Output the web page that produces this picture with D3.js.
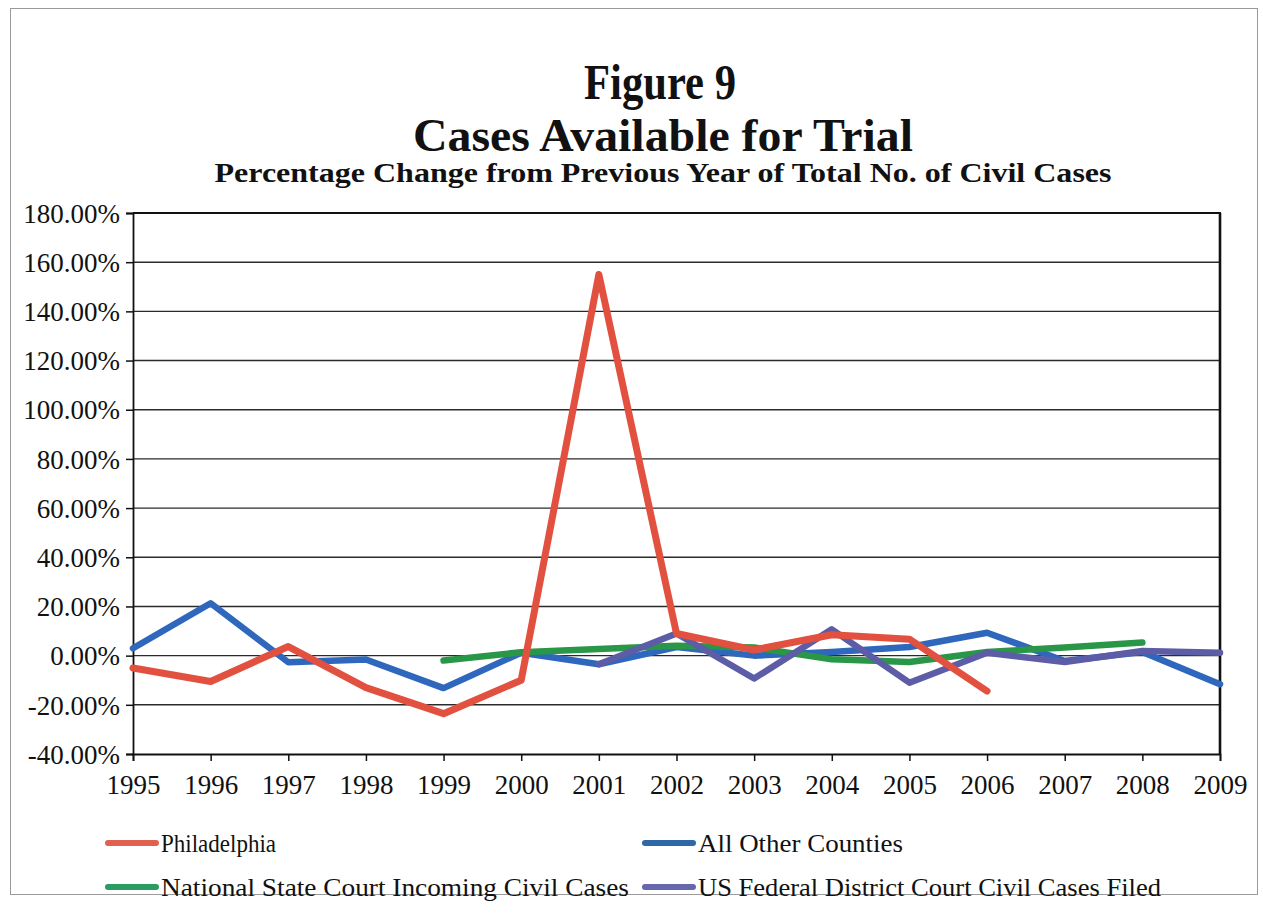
<!DOCTYPE html>
<html>
<head>
<meta charset="utf-8">
<script src="https://cdn.jsdelivr.net/npm/d3@7"></script>
<style>
  html, body { margin: 0; padding: 0; background: #fff; }
  svg { display: block; }
  text { font-family: "Liberation Serif", "Times New Roman", serif; fill: #111; }
</style>
</head>
<body>
<svg id="chart" width="1263" height="917"></svg>
<script>
// Categories (years) and series values, percentage change from previous year
const years = [1995, 1996, 1997, 1998, 1999, 2000, 2001, 2002, 2003, 2004, 2005, 2006, 2007, 2008, 2009];
const philadelphia = [-5, -10.5, 3.7, -13, -23.6, -10, 155, 9, 2.3, 8.5, 6.7, -14.4, null, null, null];
const allOtherCounties = [3, 21.3, -2.7, -1.6, -13.2, 1.2, -3.5, 3.5, 0, 1.5, 3.5, 9.3, -2.2, 1.5, -11.6];
const nationalStateCourt = [null, null, null, null, -2, 1.4, 2.7, 4, 3.3, -1.5, -2.6, 1.5, 3.3, 5.3, null];
const usFederalDistrict = [null, null, null, null, null, null, -3.5, 9, -9.3, 10.7, -11, 1.2, -2.6, 1.9, 1.2];
const yTicks = [-40, -20, 0, 20, 40, 60, 80, 100, 120, 140, 160, 180];

const seriesNames = ["Philadelphia", "All Other Counties", "National State Court Incoming Civil Cases", "US Federal District Court Civil Cases Filed"];
const seriesValues = [philadelphia, allOtherCounties, nationalStateCourt, usFederalDistrict];
const seriesColors = ["#e2513f", "#2f67bd", "#2a9647", "#5d5ca6"];
const legendColors = ["#e0614f", "#2e68a6", "#2a9b62", "#6767ad"];

const svg = d3.select("#chart");

// Outer frame
svg.append("rect")
  .attr("x", 10.5).attr("y", 8.5)
  .attr("width", 1247).attr("height", 886)
  .attr("fill", "none").attr("stroke", "#9a9a9a").attr("stroke-width", 1);

// Titles
svg.append("text").attr("x", 660).attr("y", 99)
  .attr("text-anchor", "middle").attr("font-weight", "bold").attr("font-size", 50)
  .attr("textLength", 152).attr("lengthAdjust", "spacingAndGlyphs")
  .text("Figure 9");
svg.append("text").attr("x", 663).attr("y", 151)
  .attr("text-anchor", "middle").attr("font-weight", "bold").attr("font-size", 47)
  .attr("textLength", 500).attr("lengthAdjust", "spacingAndGlyphs")
  .text("Cases Available for Trial");
svg.append("text").attr("x", 663).attr("y", 182)
  .attr("text-anchor", "middle").attr("font-weight", "bold").attr("font-size", 28)
  .attr("textLength", 897).attr("lengthAdjust", "spacingAndGlyphs")
  .text("Percentage Change from Previous Year of Total No. of Civil Cases");

// Scales
const x = d3.scalePoint().domain(years).range([133, 1220]);
const y = d3.scaleLinear().domain([-40, 180]).range([754, 213]);

// Horizontal gridlines
svg.append("g")
  .selectAll("line")
  .data(yTicks.filter(t => t !== -40 && t !== 180))
  .join("line")
  .attr("x1", x.range()[0]).attr("x2", x.range()[1])
  .attr("y1", d => y(d)).attr("y2", d => y(d))
  .attr("stroke", "#2b2b2b").attr("stroke-width", 1.4);

// Plot frame: top and right edges
svg.append("line").attr("x1", 133).attr("x2", 1221).attr("y1", y(180)).attr("y2", y(180))
  .attr("stroke", "#111").attr("stroke-width", 2.2);
svg.append("line").attr("x1", 1220).attr("x2", 1220).attr("y1", y(180)).attr("y2", y(-40))
  .attr("stroke", "#111").attr("stroke-width", 2.6);

// Y axis
const pct = d => (d3.format(".2f")(d) + "%").replace("\u2212", "-");
const yAxis = svg.append("g")
  .attr("transform", `translate(${x.range()[0]},0)`)
  .call(d3.axisLeft(y).tickValues(yTicks).tickSize(7).tickPadding(6).tickFormat(pct));
yAxis.select(".domain").attr("stroke", "#111").attr("stroke-width", 1.8);
yAxis.selectAll(".tick line").attr("stroke", "#111").attr("stroke-width", 1.5);
yAxis.selectAll(".tick text")
  .attr("font-family", "Liberation Serif, Times New Roman, serif")
  .attr("font-size", 27).attr("fill", "#111").attr("dy", "0.34em");

// X axis
const xAxis = svg.append("g")
  .attr("transform", `translate(0,${y(-40)})`)
  .call(d3.axisBottom(x).tickSize(7).tickPadding(14));
xAxis.select(".domain").attr("stroke", "#111").attr("stroke-width", 1.8);
xAxis.selectAll(".tick line").attr("stroke", "#111").attr("stroke-width", 1.5);
xAxis.selectAll(".tick text")
  .attr("font-family", "Liberation Serif, Times New Roman, serif")
  .attr("font-size", 27).attr("fill", "#111");

// Series lines
const line = d3.line()
  .defined(d => d.v !== null)
  .x(d => x(d.year))
  .y(d => y(d.v));

const drawOrder = [1, 2, 3, 0];
drawOrder.forEach(i => {
  const pts = years.map((yr, k) => ({ year: yr, v: seriesValues[i][k] }));
  svg.append("path")
    .datum(pts)
    .attr("d", line)
    .attr("fill", "none")
    .attr("stroke", seriesColors[i])
    .attr("stroke-width", i === 0 ? 7 : 6.5)
    .attr("stroke-linejoin", "round")
    .attr("stroke-linecap", "round");
});

// Legend
const legendItems = [
  { i: 0, sx: 108, row: 0, w: 115 },
  { i: 1, sx: 645, row: 0, w: 205 },
  { i: 2, sx: 108, row: 1, w: 468 },
  { i: 3, sx: 645, row: 1, w: 463 }
];
const rowY = [843, 887];
const legend = svg.append("g");
legendItems.forEach(it => {
  legend.append("line")
    .attr("x1", it.sx).attr("x2", it.sx + 48)
    .attr("y1", rowY[it.row]).attr("y2", rowY[it.row])
    .attr("stroke", legendColors[it.i]).attr("stroke-width", 6)
    .attr("stroke-linecap", "round");
  legend.append("text")
    .attr("x", it.sx + 53).attr("y", rowY[it.row] + 9)
    .attr("font-size", 26)
    .attr("textLength", it.w).attr("lengthAdjust", "spacingAndGlyphs")
    .text(seriesNames[it.i]);
});
</script>
</body>
</html>
